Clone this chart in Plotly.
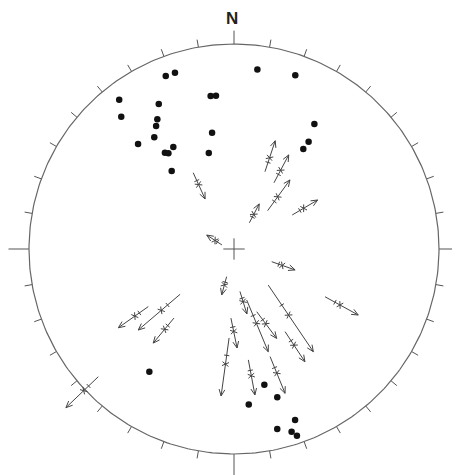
import numpy as np
import plotly.graph_objects as go

# Poles (projected net coordinates, unit = net radius; x east, y north)
pole_x = [-0.333, -0.288, 0.114, 0.299, -0.560, -0.367, -0.114, -0.088, -0.550, -0.374,
          -0.380, 0.392, -0.389, -0.468, -0.107, 0.364, 0.338, -0.296, -0.337, -0.320,
          -0.123, -0.304, -0.413, 0.148, 0.072, 0.211, 0.298, 0.211, 0.281, 0.307]
pole_y = [0.844, 0.860, 0.875, 0.847, 0.728, 0.707, 0.746, 0.748, 0.645, 0.633,
          0.600, 0.610, 0.545, 0.512, 0.567, 0.523, 0.488, 0.498, 0.470, 0.467,
          0.468, 0.380, -0.599, -0.662, -0.758, -0.723, -0.834, -0.878, -0.891, -0.911]

# Slip lineations with sense arrows (tail -> head, projected net coordinates)
tail_x = [0.151, 0.195, 0.164, 0.075, 0.284, -0.199, -0.059, 0.184, -0.036, -0.418,
          -0.263, -0.293, 0.029, 0.062, 0.111, 0.167, 0.249, -0.015, -0.024, 0.070,
          0.176, 0.444, -0.662]
tail_y = [0.377, 0.323, 0.187, 0.128, 0.166, 0.372, 0.020, -0.062, -0.135, -0.281,
          -0.221, -0.337, -0.207, -0.249, -0.306, -0.176, -0.403, -0.337, -0.434, -0.541,
          -0.525, -0.233, -0.623]
head_x = [0.201, 0.267, 0.273, 0.123, 0.408, -0.141, -0.133, 0.298, -0.060, -0.564,
          -0.467, -0.394, 0.063, 0.167, 0.208, 0.387, 0.346, 0.015, -0.063, 0.102,
          0.249, 0.606, -0.820]
head_y = [0.528, 0.459, 0.337, 0.220, 0.239, 0.244, 0.068, -0.102, -0.224, -0.384,
          -0.395, -0.459, -0.317, -0.501, -0.436, -0.501, -0.550, -0.483, -0.717, -0.712,
          -0.704, -0.322, -0.774]

tick_az = list(range(0, 360, 10))
north_label = "N"

fig = go.Figure()

# graticule ticks
tx, ty = [], []
for az in tick_az:
    a = np.radians(az)
    if az in (90, 270):
        r2 = 1.10
    elif az == 0:
        r2 = 1.065
    elif az == 180:
        r2 = 1.12
    else:
        r2 = 1.037
    tx += [np.sin(a), r2 * np.sin(a), None]
    ty += [np.cos(a), r2 * np.cos(a), None]
# centre cross
c = 0.052
tx += [-c, c, None, 0, 0, None]
ty += [0, 0, None, -c, c, None]
fig.add_trace(go.Scatter(x=tx, y=ty, mode="lines", line=dict(color="#555", width=1),
                         hoverinfo="skip", showlegend=False))

# primitive circle
th = np.linspace(0, 2 * np.pi, 361)
fig.add_trace(go.Scatter(x=np.cos(th), y=np.sin(th), mode="lines",
                         line=dict(color="#666", width=1.2), hoverinfo="skip", showlegend=False))

# arrows
ax_, ay_ = [], []
for x0, y0, x1, y1 in zip(tail_x, tail_y, head_x, head_y):
    dx, dy = x1 - x0, y1 - y0
    L = np.hypot(dx, dy)
    ux, uy = dx / L, dy / L
    px_, py_ = -uy, ux
    ax_ += [x0, x1, None]
    ay_ += [y0, y1, None]
    # arrow head barbs
    hl, hw = 0.032, 0.014
    for s in (1, -1):
        ax_ += [x1, x1 - hl * ux + s * hw * px_, None]
        ay_ += [y1, y1 - hl * uy + s * hw * py_, None]
    # slickenside symbol near middle
    mx, my = x0 + 0.45 * dx, y0 + 0.45 * dy
    k = 0.016
    for s in (1, -1):
        ax_ += [mx - k * (ux * 0.6 + s * px_), mx + k * (ux * 0.6 + s * px_), None]
        ay_ += [my - k * (uy * 0.6 + s * py_), my + k * (uy * 0.6 + s * py_), None]
    mx2, my2 = x0 + 0.3 * dx, y0 + 0.3 * dy
    ax_ += [mx2 - k * 0.8 * px_, mx2 + k * 0.8 * px_, None]
    ay_ += [my2 - k * 0.8 * py_, my2 + k * 0.8 * py_, None]
fig.add_trace(go.Scatter(x=ax_, y=ay_, mode="lines", line=dict(color="#444", width=1),
                         hoverinfo="skip", showlegend=False))

# poles
fig.add_trace(go.Scatter(x=pole_x, y=pole_y, mode="markers",
                         marker=dict(color="#111", size=6.5, line=dict(width=0)),
                         hoverinfo="skip", showlegend=False))

fig.add_annotation(x=-0.01, y=1.07, xref="x", yref="y", text="<b>" + north_label + "</b>",
                   showarrow=False, yanchor="bottom", xanchor="center",
                   font=dict(family="Liberation Sans, Arial", size=17, color="#222"))

# page body has an 8px margin; figure is sized/offset so the net sits at the right place
fig.update_layout(
    width=452, height=467,
    margin=dict(l=0, r=0, t=0, b=0),
    paper_bgcolor="white", plot_bgcolor="white",
    xaxis=dict(range=[-226 / 205, 226 / 205], visible=False, fixedrange=True),
    yaxis=dict(range=[-226 / 205, 241 / 205], visible=False, fixedrange=True),
)
fig.write_html("out.html")
